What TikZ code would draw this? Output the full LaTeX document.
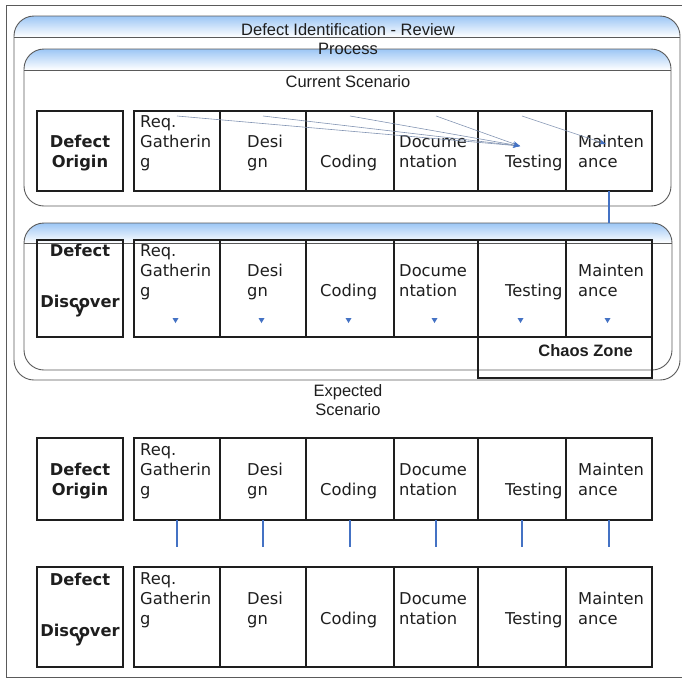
\documentclass[tikz,border=0pt]{standalone}
\usepackage{fontspec}
\setmainfont{Liberation Sans}
\newfontfamily\cellfont{DejaVu Sans}
\usetikzlibrary{arrows.meta}
\definecolor{bandblue}{RGB}{156,198,245}
\definecolor{conblue}{RGB}{68,114,196}
\definecolor{thinblue}{RGB}{130,148,178}
\definecolor{framegray}{RGB}{90,90,90}
\definecolor{ink}{RGB}{30,30,30}
\begin{document}
\begin{tikzpicture}[x=1pt,y=-1pt,
  cellbox/.style={draw=ink,line width=1.5pt,inner sep=0pt,outer sep=0pt},
  cont/.style={draw=framegray,line width=0.9pt},
  celltxt/.style={font={\cellfont\fontsize{16.3}{20}\selectfont},text=ink,inner sep=0pt,align=left,anchor=south west},
  boldtxt/.style={font={\cellfont\bfseries\fontsize{16.3}{20}\selectfont},text=ink,inner sep=0pt,align=center,anchor=south},
  titletxt/.style={font={\fontsize{16.5}{19}\selectfont},text=ink,inner sep=0pt},
  conn/.style={draw=conblue,line width=1.3pt},
  thinarrow/.style={draw=thinblue,line width=0.6pt,-{Stealth[length=7pt,width=5pt,color=conblue]}},
  tri/.style={fill=conblue}]
\useasboundingbox (0,0) rectangle (682,678);
% outer frame
\draw[framegray,line width=0.9pt] (682,5) -- (6,5) -- (6,677) -- (682,677);
% container A
\begin{scope}
  \clip[rounded corners=20pt] (14,16) rectangle (680,380);
  \shade[top color=bandblue,bottom color=white] (14,16) rectangle (680,37);
\end{scope}
\draw[cont,rounded corners=20pt] (14,16) rectangle (680,380);
\draw[cont] (14,37) -- (680,37);
% container Process
\begin{scope}
  \clip[rounded corners=20pt] (24,49) rectangle (671,206);
  \shade[top color=bandblue,bottom color=white] (24,49) rectangle (671,70);
\end{scope}
\draw[cont,rounded corners=20pt] (24,49) rectangle (671,206);
\draw[cont] (24,70) -- (671,70);
% container discovery
\begin{scope}
  \clip[rounded corners=20pt] (24,223) rectangle (672,370);
  \fill[white] (24,223) rectangle (672,370);
  \shade[top color=bandblue,bottom color=white] (24,223) rectangle (672,243);
\end{scope}
\draw[cont,rounded corners=20pt] (24,223) rectangle (672,370);
\draw[cont] (24,243) -- (672,243);
\coordinate (disctop) at (609,223);

% titles
\node[titletxt,anchor=base] (ttl) at (348,35) {Defect Identification - Review};
\node[titletxt,anchor=base] (proc) at (348,54) {Process};
\node[titletxt,anchor=base] (cur) at (348,87) {Current Scenario};
\node[titletxt,anchor=south,align=center] (exp) at (348,421) {Expected\\Scenario\strut};

% rows of boxes
\foreach \row/\cy/\h in {1/151/80, 2/288.5/97, 3/479/82, 4/617/100}{
  \node[cellbox,minimum width=86pt,minimum height=\h] (o\row) at (80,\cy) {};
  \foreach \l/\r [count=\i] in {134/220,220/306,306/394,394/478,478/566,566/652}{
    \node[cellbox,minimum width=\r-\l,minimum height=\h] (r\row c\i) at ({(\l+\r)/2},\cy) {};
  }
}
\node[cellbox,minimum width=174pt,minimum height=41pt] (chaos) at (565,357.5) {};
\node[titletxt,font={\bfseries\fontsize{16.5}{19}\selectfont},anchor=base east] (chaoslbl) at (633,356) {Chaos Zone};

% texts of rows
\foreach \row/\sy in {1/174, 2/303, 3/502, 4/631}{
  \node[celltxt] (t\row a) at (140,\sy) {Req.\\Gatherin\\g\strut};
  \node[celltxt] (t\row b) at (247,\sy) {Desi\\gn\strut};
  \node[celltxt] (t\row c) at (320,\sy) {Coding\strut};
  \node[celltxt] (t\row d) at (399,\sy) {Docume\\ntation\strut};
  \node[celltxt] (t\row e) at (505,\sy) {Testing\strut};
  \node[celltxt] (t\row f) at (578,\sy) {Mainten\\ance\strut};
}
\node[boldtxt] (do1) at (80,174) {Defect\\Origin\strut};
\node[boldtxt] (do3) at (80,502) {Defect\\Origin\strut};
\node[boldtxt] (dd2) at (80,320) {Defect\\[31pt]Discover\\[-14pt]y\strut};
\node[boldtxt] (dd4) at (80,649) {Defect\\[31pt]Discover\\[-14pt]y\strut};

% arrows in current scenario
\coordinate (hitT) at (520,146);
\coordinate (hitM) at (606,144);
\foreach \i in {1,2,3,4}{
  \draw[thinarrow] ([yshift=-5pt]r1c\i.north) -- (hitT);
}
\draw[thinarrow] ([yshift=-5pt]r1c5.north) -- (hitM);
\draw[conn] (r1c6.south) -- (disctop);

% triangles in discovery row
\foreach \i in {1,...,6}{
  \fill[tri] ([shift={(-4.5pt,19pt)}]r2c\i.south) -- ++(6,0) -- ++(-3,5) -- cycle;
}
% expected connectors
\foreach \i in {1,...,6}{
  \draw[conn] (r3c\i.south) -- ++(0,27);
}
\end{tikzpicture}
\end{document}
